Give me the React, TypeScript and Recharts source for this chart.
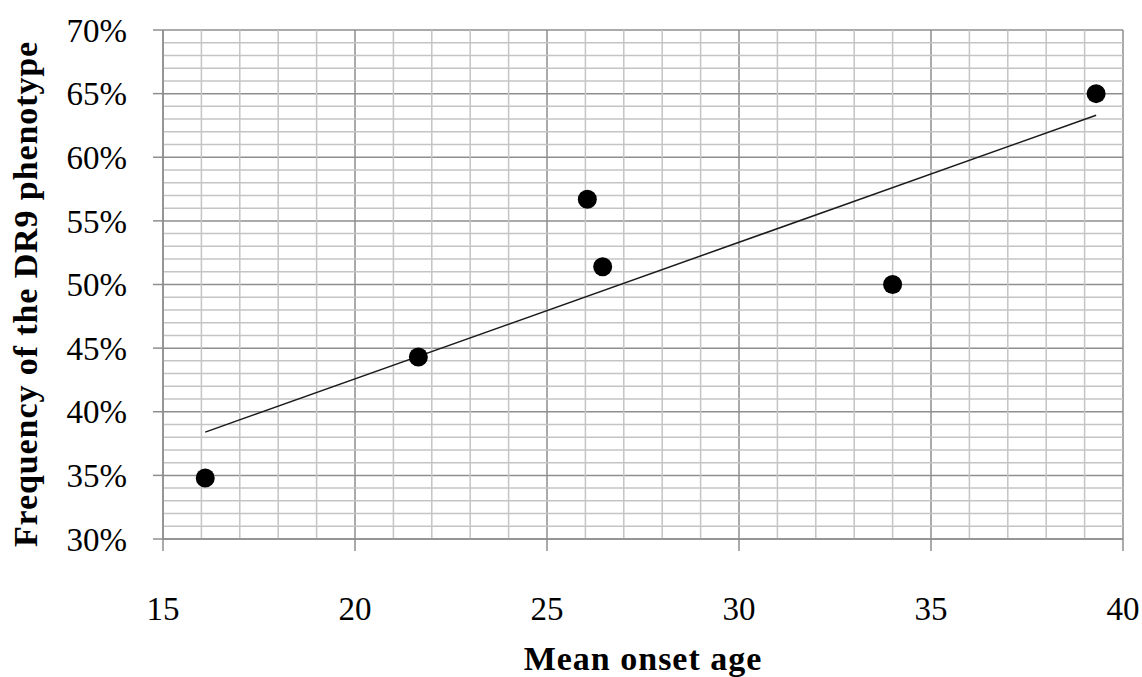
import React from 'react';
import {
  ScatterChart,
  Scatter,
  XAxis,
  YAxis,
  CartesianGrid,
  ReferenceLine,
  Label,
} from 'recharts';

// Observed points: mean onset age vs frequency of DR9 phenotype (%)
const onsetAge = [16.1, 21.65, 26.05, 26.45, 34.0, 39.3];
const dr9Freq = [34.8, 44.3, 56.7, 51.4, 50.0, 65.0];

// Linear trendline endpoints
const trendAge = [16.1, 39.3];
const trendFreq = [38.4, 63.3];

const xTicks = [15, 20, 25, 30, 35, 40];
const yTicks = [30, 35, 40, 45, 50, 55, 60, 65, 70];
const xMinor = [16, 17, 18, 19, 21, 22, 23, 24, 26, 27, 28, 29, 31, 32, 33, 34, 36, 37, 38, 39];
const yMinor = [
  31, 32, 33, 34, 36, 37, 38, 39, 41, 42, 43, 44, 46, 47, 48, 49, 51, 52, 53, 54,
  56, 57, 58, 59, 61, 62, 63, 64, 66, 67, 68, 69,
];

const points = onsetAge.map((x, i) => ({ x, y: dr9Freq[i] }));
const trend = trendAge.map((x, i) => ({ x, y: trendFreq[i] }));

const FONT = '"Liberation Serif", "Times New Roman", serif';
const MINOR = '#c4c4c4';
const MAJOR = '#8e8e8e';

export default function App() {
  return (
    <div style={{ position: 'absolute', left: 0, top: 0, width: 1142, height: 677, background: '#fff' }}>
      <ScatterChart
        width={1142}
        height={677}
        margin={{ top: 30, right: 19, left: 63, bottom: 58 }}
        style={{ fontFamily: FONT }}
      >
        <CartesianGrid stroke={MAJOR} strokeWidth={1.5} />
        {xMinor.map((v) => (
          <ReferenceLine key={'vx' + v} x={v} stroke={MINOR} strokeWidth={1.5} />
        ))}
        {yMinor.map((v) => (
          <ReferenceLine key={'hy' + v} y={v} stroke={MINOR} strokeWidth={1.5} />
        ))}
        <XAxis
          type="number"
          dataKey="x"
          domain={[15, 40]}
          ticks={xTicks}
          interval={0}
          height={80}
          axisLine={{ stroke: MAJOR, strokeWidth: 1.5 }}
          tickLine={{ stroke: MAJOR, strokeWidth: 1.5 }}
          tickSize={12}
          tickMargin={46}
          tick={{ fill: '#000', fontSize: 33, fontFamily: FONT }}
        >
          <Label
            value="Mean onset age"
            position="bottom"
            offset={27}
            style={{ fill: '#000', fontSize: 34, fontWeight: 'bold', fontFamily: FONT, letterSpacing: 1 }}
          />
        </XAxis>
        <YAxis
          type="number"
          dataKey="y"
          domain={[30, 70]}
          ticks={yTicks}
          interval={0}
          width={100}
          axisLine={{ stroke: MAJOR, strokeWidth: 1.5 }}
          tickLine={{ stroke: MAJOR, strokeWidth: 1.5 }}
          tickSize={10}
          tickMargin={26}
          tickFormatter={(v: number) => `${v}%`}
          tick={{ fill: '#000', fontSize: 33, fontFamily: FONT }}
        >
          <Label
            content={() => (
              <text
                x={37}
                y={294}
                transform="rotate(-90 37 294)"
                textAnchor="middle"
                fill="#000"
                fontSize={34}
                fontWeight="bold"
                fontFamily={FONT}
                letterSpacing={0.9}
              >
                Frequency of the DR9 phenotype
              </text>
            )}
          />
        </YAxis>
        <Scatter
          data={trend}
          line={{ stroke: '#1a1a1a', strokeWidth: 1.5 }}
          shape={() => <g />}
          isAnimationActive={false}
          legendType="none"
        />
        <Scatter
          data={points}
          fill="#000"
          shape={(p: any) => <circle cx={p.cx} cy={p.cy} r={9.5} fill="#000" />}
          isAnimationActive={false}
        />
      </ScatterChart>
    </div>
  );
}
